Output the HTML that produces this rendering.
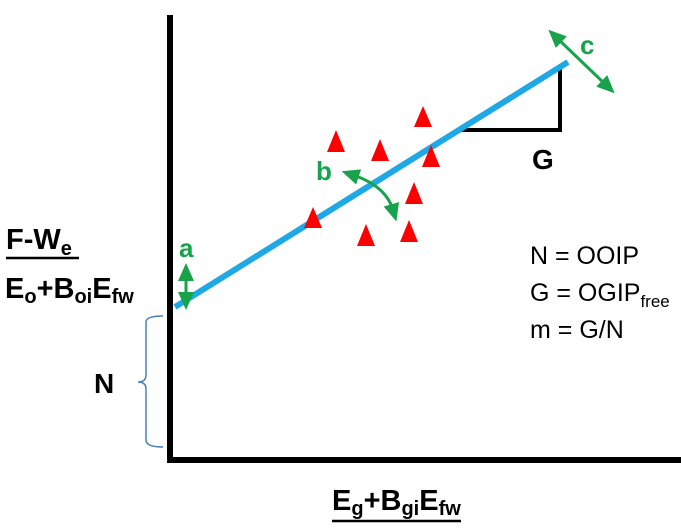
<!DOCTYPE html>
<html><head><style>
body{margin:0;width:681px;height:529px;background:#fff;overflow:hidden}
svg{display:block}
text{font-family:"Liberation Sans",sans-serif}
</style></head><body>
<svg width="681" height="529" viewBox="0 0 681 529">
<defs>
<marker id="g" markerWidth="18" markerHeight="16" refX="6" refY="8" orient="auto-start-reverse" markerUnits="userSpaceOnUse"><path d="M0,0 L18,8 L0,16 z" fill="#16a34a"/></marker>
</defs>
<line x1="170" y1="15" x2="170" y2="463" stroke="#000" stroke-width="6"/>
<line x1="167" y1="460" x2="681" y2="460" stroke="#000" stroke-width="6"/>
<polyline points="457,130 560,130 560,66" fill="none" stroke="#000" stroke-width="4"/>
<line x1="175" y1="307" x2="568" y2="62" stroke="#1ea8e6" stroke-width="6"/>
<g fill="#f00">
<path d="M336,130 L345,152 L327,152z"/>
<path d="M380,139 L389,161 L371,161z"/>
<path d="M423,106 L432,127 L414,127z"/>
<path d="M431,145 L440,167 L422,167z"/>
<path d="M414,182 L423,204 L405,204z"/>
<path d="M366,224 L375,246 L357,246z"/>
<path d="M409,220 L418,242 L400,242z"/>
<path d="M313,207 L322,228 L304,228z"/>
</g>
<g stroke="#16a34a" stroke-width="3" fill="none">
<line x1="186" y1="275" x2="186" y2="298" marker-start="url(#g)" marker-end="url(#g)"/>
<line x1="557" y1="38" x2="606" y2="85" marker-start="url(#g)" marker-end="url(#g)"/>
<path d="M353,175 Q386,186 393,210" marker-start="url(#g)" marker-end="url(#g)"/>
</g>
<g fill="#16a34a" font-weight="bold" font-size="26">
<text x="179" y="257">a</text>
<text x="316" y="180">b</text>
<text x="580" y="54">c</text>
</g>
<text x="532" y="169" font-size="28" font-weight="bold">G</text>
<g font-size="25">
<text x="530" y="264">N = OOIP</text>
<text x="530" y="301">G = OGIP<tspan font-size="17" dy="6">free</tspan></text>
<text x="530" y="338">m = G/N</text>
</g>
<path d="M163,316 Q146,316 146,322 L146,375 Q146,382 138,382 Q146,382 146,389 L146,440 Q146,447 163,447" fill="none" stroke="#4a7ebb" stroke-width="1.5"/>
<text x="94" y="393" font-size="28" font-weight="bold">N</text>
<g font-weight="bold" font-size="29">
<text x="6" y="249">F-W<tspan font-size="20" dy="6">e</tspan></text>
<line x1="6" y1="258" x2="79" y2="258" stroke="#000" stroke-width="2.5"/>
<text x="5" y="298">E<tspan font-size="20" dy="5">o</tspan><tspan dy="-5">+B</tspan><tspan font-size="20" dy="5">oi</tspan><tspan dy="-5">E</tspan><tspan font-size="20" dy="5">fw</tspan></text>
<text x="332" y="510">E<tspan font-size="20" dy="5">g</tspan><tspan dy="-5">+B</tspan><tspan font-size="20" dy="5">gi</tspan><tspan dy="-5">E</tspan><tspan font-size="20" dy="5">fw</tspan></text>
<line x1="332" y1="521" x2="461" y2="521" stroke="#000" stroke-width="2.5"/>
</g>
</svg>
</body></html>
